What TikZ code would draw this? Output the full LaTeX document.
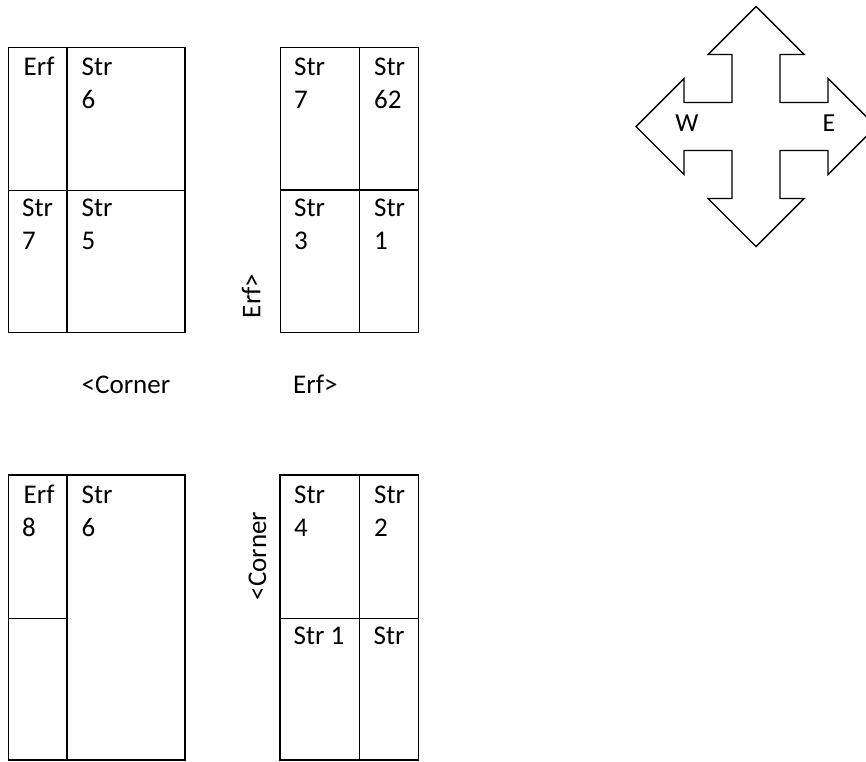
\documentclass[tikz,border=0pt]{standalone}
\usepackage{fontspec}
\setmainfont{Carlito}
\begin{document}
\begin{tikzpicture}[x=1pt,y=-1pt,
  frame/.style={line width=1.6pt,black},
  lbl/.style={inner sep=0pt,anchor=base west,font=\fontsize{27}{32}\selectfont},
  rlbl/.style={inner sep=0pt,anchor=center,rotate=90,font=\fontsize{27}{32}\selectfont}]
\useasboundingbox (0,0) rectangle (866,761);
\clip (0,0) rectangle (866,761);

% top-left block
\draw[frame] (8.5,47.5) rectangle (185,332.5);
\draw[frame] (66.7,47.5) -- (66.7,332.5);
\draw[frame] (8.5,190.5) -- (185,190.5);
\node[lbl] (tl1) at (23.5,75) {Erf};
\node[lbl] (tl2) at (81.5,75) {Str};
\node[lbl] (tl3) at (81.5,108) {6};
\node[lbl] (tl4) at (22,216.5) {Str};
\node[lbl] (tl5) at (22,249) {7};
\node[lbl] (tl6) at (81.5,216.5) {Str};
\node[lbl] (tl7) at (81.5,249) {5};

% top-middle block
\draw[frame] (280.5,47.5) rectangle (418.5,332.5);
\draw[frame] (359.5,47.5) -- (359.5,332.5);
\draw[frame] (280.5,190) -- (418.5,190);
\node[lbl] (tm1) at (294,75) {Str};
\node[lbl] (tm2) at (294,108) {7};
\node[lbl] (tm3) at (374,75) {Str};
\node[lbl] (tm4) at (374,108) {62};
\node[lbl] (tm5) at (294,216.5) {Str};
\node[lbl] (tm6) at (294,249) {3};
\node[lbl] (tm7) at (374,216.5) {Str};
\node[lbl] (tm8) at (374,249) {1};
\node[rlbl] (erfv) at (251,296) {Erf>};

% middle labels
\node[lbl] (cornerh) at (81.5,393) {<Corner};
\node[lbl] (erfh) at (293,393) {Erf>};

% bottom-left block
\draw[frame] (8.5,475) rectangle (185,760);
\draw[frame] (66.7,475) -- (66.7,760);
\draw[frame] (8.5,618.5) -- (66.7,618.5);
\node[lbl] (bl1) at (23.5,503) {Erf};
\node[lbl] (bl2) at (22,536) {8};
\node[lbl] (bl3) at (81.5,503) {Str};
\node[lbl] (bl4) at (81.5,536) {6};

% bottom-middle block
\draw[frame] (280,475) rectangle (418.5,760);
\draw[frame] (359.5,475) -- (359.5,760);
\draw[frame] (280,618.5) -- (418.5,618.5);
\node[lbl] (bm1) at (294,503) {Str};
\node[lbl] (bm2) at (294,536) {4};
\node[lbl] (bm3) at (374,503) {Str};
\node[lbl] (bm4) at (374,536) {2};
\node[lbl] (bm5) at (293.5,644) {Str 1};
\node[lbl] (bm6) at (373.5,644) {Str};
\node[rlbl] (cornerv) at (257.5,556) {<Corner};

% compass
\begin{scope}[shift={(756,126.5)}]
\draw[line width=1.4pt,line join=miter]
  (0,-120) -- (48,-72) -- (24,-72) -- (24,-24) -- (72,-24) -- (72,-48)
  -- (120,0) -- (72,48) -- (72,24) -- (24,24) -- (24,72) -- (48,72)
  -- (0,120) -- (-48,72) -- (-24,72) -- (-24,24) -- (-72,24) -- (-72,48)
  -- (-120,0) -- (-72,-48) -- (-72,-24) -- (-24,-24) -- (-24,-72) -- (-48,-72)
  -- cycle;
\end{scope}
\node[inner sep=0pt,anchor=base,font=\fontsize{26}{31}\selectfont] (west) at (687,131) {W};
\node[inner sep=0pt,anchor=base,font=\fontsize{26}{31}\selectfont] (east) at (829,131) {E};
\end{tikzpicture}
\end{document}
